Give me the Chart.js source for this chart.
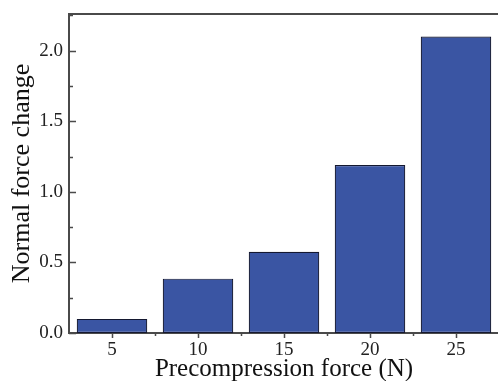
<!DOCTYPE html>
<html>
<head>
<meta charset="utf-8">
<script src="https://cdn.jsdelivr.net/npm/chart.js@4"></script>
<style>
  html, body { margin: 0; padding: 0; background: #fff; overflow: hidden; }
  #wrap { width: 500px; height: 381px; }
</style>
</head>
<body>
<div id="wrap"><canvas id="chart" width="500" height="381"></canvas></div>
<script>
const categories = ["5", "10", "15", "20", "25"];
const normalForceChange = [0.10, 0.385, 0.575, 1.19, 2.10];
const yTickValues = [0, 0.25, 0.5, 0.75, 1.0, 1.25, 1.5, 1.75, 2.0, 2.25];

const serif = "'Liberation Serif', 'Times New Roman', serif";
const axisColor = "#4a4a4a";

// tick marks: y ticks point inward, x ticks outward, plus top/right frame
const frameTicks = {
    id: "frameTicks",
    afterDraw(chart) {
        const ctx = chart.ctx;
        const area = chart.chartArea;
        const x = chart.scales.x;
        const y = chart.scales.y;
        ctx.save();
        ctx.strokeStyle = axisColor;
        ctx.lineWidth = 2;
        ctx.beginPath();
        ctx.moveTo(area.left, area.top);
        ctx.lineTo(area.right, area.top);
        ctx.lineTo(area.right, area.bottom);
        ctx.stroke();
        ctx.lineWidth = 1.5;
        ctx.beginPath();
        yTickValues.forEach(v => {
            const py = Math.round(y.getPixelForValue(v)) + 0.5;
            const major = Math.abs(v * 2 - Math.round(v * 2)) < 1e-6;
            ctx.moveTo(area.left, py);
            ctx.lineTo(area.left + (major ? 7 : 4), py);
        });
        for (let i = 0; i < categories.length; i++) {
            const cx = Math.round(x.getPixelForValue(i)) + 0.5;
            ctx.moveTo(cx, area.bottom);
            ctx.lineTo(cx, area.bottom + 5);
            if (i > 0) {
                const px = Math.round((x.getPixelForValue(i - 1) + x.getPixelForValue(i)) / 2) + 0.5;
                ctx.moveTo(px, area.bottom);
                ctx.lineTo(px, area.bottom + 3);
            }
        }
        ctx.stroke();
        ctx.restore();
    }
};

new Chart(document.getElementById("chart").getContext("2d"), {
    type: "bar",
    data: {
        labels: categories,
        datasets: [{
            data: normalForceChange,
            backgroundColor: "#3a55a3",
            borderColor: "#141830",
            borderWidth: 1.2,
            borderSkipped: false,
            barPercentage: 0.82,
            categoryPercentage: 1.0
        }]
    },
    options: {
        responsive: false,
        animation: false,
        layout: { padding: { top: 14, right: 1, left: 0, bottom: 0 } },
        plugins: { legend: { display: false }, tooltip: { enabled: false } },
        scales: {
            x: {
                grid: { display: false, drawTicks: false },
                border: { display: true, color: axisColor, width: 2 },
                ticks: { color: "#222", font: { family: serif, size: 19 }, padding: 6 },
                title: {
                    display: true, text: "Precompression force (N)", color: "#111",
                    font: { family: serif, size: 25 }, padding: { top: -4, bottom: -3 }
                },
                afterFit: s => { s.height = 48; s.paddingLeft = 0; s.paddingRight = 0; }
            },
            y: {
                min: 0, max: 2.26,
                grid: { display: false, drawTicks: false },
                border: { display: true, color: axisColor, width: 2 },
                ticks: {
                    stepSize: 0.5, color: "#222", padding: 6,
                    font: { family: serif, size: 19 },
                    callback: v => (Math.abs(v * 2 - Math.round(v * 2)) < 1e-6 && v <= 2.0) ? v.toFixed(1) : ""
                },
                title: {
                    display: true, text: "Normal force change", color: "#111",
                    font: { family: serif, size: 26 }, padding: { top: 7, bottom: 2 }
                },
                afterFit: s => { s.width = 69; s.paddingTop = 0; s.paddingBottom = 0; }
            }
        }
    },
    plugins: [frameTicks]
});
</script>
</body>
</html>
